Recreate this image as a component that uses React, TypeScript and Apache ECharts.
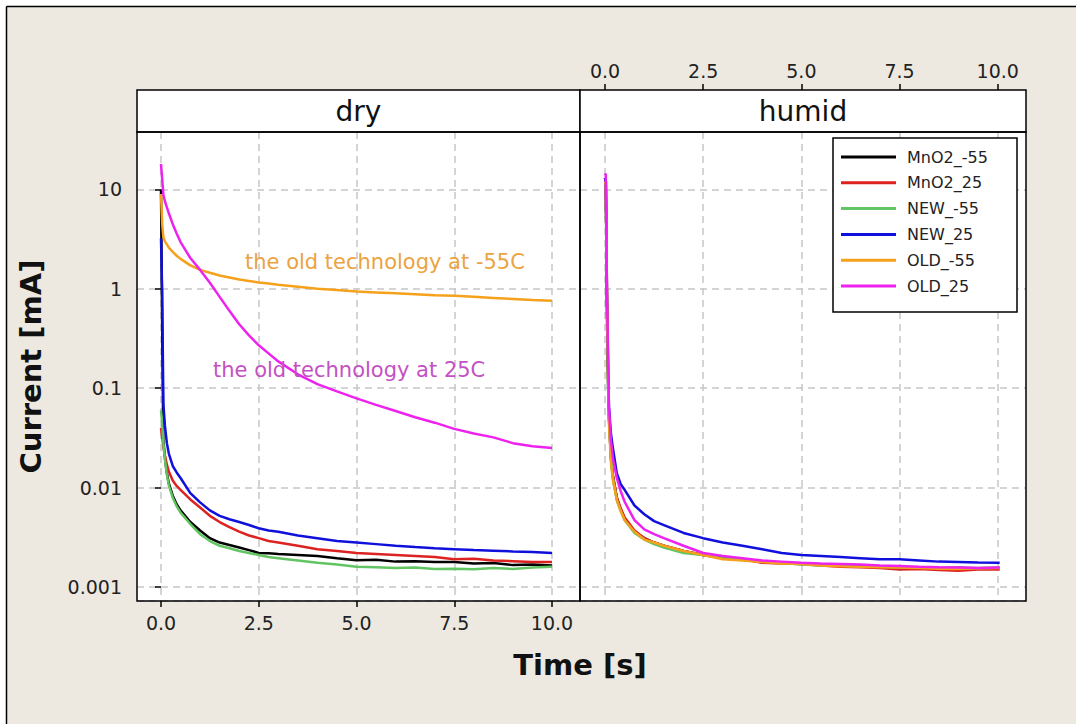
import React, { useEffect, useRef } from "react";
import * as echarts from "echarts";

// ---------- data ----------
const seriesNames = ["MnO2_-55", "MnO2_25", "NEW_-55", "NEW_25", "OLD_-55", "OLD_25"];
const seriesColors = ["#000000", "#DD2222", "#62C462", "#1010DD", "#F5A11C", "#EE22EE"];
const panelTitles = ["dry", "humid"];
const xTicks = [0, 2.5, 5, 7.5, 10];

const tDry = [0, 0.03, 0.06, 0.1, 0.15, 0.2, 0.3, 0.4, 0.5, 0.75, 1, 1.25, 1.5, 1.75, 2, 2.25, 2.5, 2.75, 3, 3.5, 4, 4.5, 5, 5.5, 6, 6.5, 7, 7.5, 8, 8.5, 9, 9.5, 10];
const dryMnO2m55 = [10, 0.4, 0.03, 0.02, 0.014, 0.011, 0.0083, 0.0068, 0.0059, 0.0045, 0.0037, 0.0031, 0.0028, 0.00265, 0.0025, 0.00235, 0.0022, 0.00218, 0.00215, 0.0021, 0.00205, 0.00195, 0.00186, 0.00188, 0.0018, 0.00182, 0.00178, 0.00178, 0.00172, 0.00174, 0.00166, 0.00168, 0.00165];
const dryMnO2p25 = [0.04, 0.032, 0.026, 0.021, 0.017, 0.0145, 0.0118, 0.0104, 0.0095, 0.0076, 0.0063, 0.0052, 0.0045, 0.004, 0.0036, 0.0033, 0.0031, 0.0029, 0.0028, 0.0026, 0.0024, 0.0023, 0.0022, 0.00215, 0.0021, 0.00205, 0.002, 0.0019, 0.00192, 0.00185, 0.00182, 0.00178, 0.00178];
const dryNEWm55 = [0.06, 0.045, 0.028, 0.019, 0.0135, 0.0105, 0.0079, 0.0065, 0.0056, 0.0043, 0.0034, 0.0029, 0.0026, 0.00245, 0.0023, 0.0022, 0.0021, 0.002, 0.00195, 0.00185, 0.00175, 0.00168, 0.0016, 0.00158, 0.00155, 0.00157, 0.00152, 0.00153, 0.00151, 0.00155, 0.00152, 0.00157, 0.0016];
const dryNEWp25 = [3.2, 0.9, 0.07, 0.042, 0.028, 0.022, 0.0165, 0.0142, 0.0125, 0.0088, 0.0071, 0.0059, 0.0052, 0.0048, 0.0045, 0.0042, 0.0039, 0.0037, 0.0036, 0.0033, 0.0031, 0.0029, 0.0028, 0.0027, 0.0026, 0.00252, 0.00245, 0.0024, 0.00235, 0.00232, 0.00228, 0.00225, 0.0022];
const dryOLDm55 = [9, 4.5, 3.3, 3.0, 2.8, 2.6, 2.35, 2.15, 2.0, 1.72, 1.55, 1.45, 1.36, 1.3, 1.24, 1.2, 1.16, 1.13, 1.1, 1.05, 1.0, 0.97, 0.94, 0.92, 0.9, 0.88, 0.86, 0.85, 0.83, 0.81, 0.79, 0.77, 0.76];
const dryOLDp25 = [18, 12.6, 8.9, 7.6, 6.6, 5.75, 4.47, 3.6, 2.95, 2.04, 1.55, 1.15, 0.83, 0.6, 0.44, 0.34, 0.27, 0.224, 0.186, 0.138, 0.11, 0.093, 0.079, 0.068, 0.059, 0.051, 0.045, 0.039, 0.035, 0.032, 0.028, 0.026, 0.025];

const tHum = [0, 0.02, 0.05, 0.08, 0.1, 0.15, 0.2, 0.3, 0.4, 0.5, 0.75, 1, 1.25, 1.5, 2, 2.5, 3, 3.5, 4, 4.5, 5, 5.5, 6, 6.5, 7, 7.5, 8, 8.5, 9, 9.5, 10.05];
const humMnO2m55 = [13, 12, 0.55, 0.1, 0.05, 0.02, 0.013, 0.0078, 0.006, 0.0049, 0.0036, 0.0031, 0.0028, 0.0026, 0.0023, 0.0021, 0.002, 0.0019, 0.00178, 0.00175, 0.0017, 0.00168, 0.00163, 0.00165, 0.0016, 0.00158, 0.00157, 0.00155, 0.00156, 0.00154, 0.00155];
const humMnO2p25 = [13, 12, 0.8, 0.12, 0.055, 0.022, 0.0135, 0.008, 0.0062, 0.005, 0.0037, 0.0031, 0.0028, 0.0026, 0.0023, 0.0021, 0.00195, 0.0019, 0.00175, 0.00172, 0.0017, 0.00165, 0.0016, 0.00158, 0.00155, 0.0015, 0.00152, 0.00148, 0.00146, 0.0015, 0.0015];
const humNEWm55 = [13, 12, 0.7, 0.1, 0.05, 0.02, 0.0125, 0.0075, 0.0058, 0.0047, 0.0035, 0.003, 0.0027, 0.0025, 0.0022, 0.0021, 0.00195, 0.0019, 0.0018, 0.00175, 0.00168, 0.00165, 0.00165, 0.0016, 0.0016, 0.00157, 0.00158, 0.00155, 0.00153, 0.00155, 0.00156];
const humNEWp25 = [13, 12, 0.9, 0.15, 0.065, 0.035, 0.025, 0.014, 0.0108, 0.0095, 0.0066, 0.0054, 0.0046, 0.0042, 0.0035, 0.0031, 0.0028, 0.0026, 0.0024, 0.0022, 0.0021, 0.00205, 0.002, 0.00195, 0.0019, 0.0019, 0.00185, 0.0018, 0.00178, 0.00176, 0.00175];
const humOLDm55 = [12, 11, 0.95, 0.12, 0.045, 0.018, 0.012, 0.0075, 0.0058, 0.0047, 0.0036, 0.003, 0.0028, 0.0026, 0.0023, 0.0021, 0.0019, 0.00185, 0.00178, 0.00172, 0.0017, 0.00165, 0.00162, 0.0016, 0.00158, 0.00157, 0.00155, 0.00153, 0.00152, 0.00154, 0.00155];
const humOLDp25 = [14.5, 14, 0.9, 0.2, 0.063, 0.03, 0.02, 0.0125, 0.0092, 0.0072, 0.0047, 0.0038, 0.0034, 0.0031, 0.0026, 0.0022, 0.00205, 0.00195, 0.00185, 0.0018, 0.00175, 0.00172, 0.0017, 0.00168, 0.00165, 0.00163, 0.0016, 0.00158, 0.00157, 0.00155, 0.00157];

const dryValues = [dryMnO2m55, dryMnO2p25, dryNEWm55, dryNEWp25, dryOLDm55, dryOLDp25];
const humValues = [humMnO2m55, humMnO2p25, humNEWm55, humNEWp25, humOLDm55, humOLDp25];

const annotations = [
  { text: "the old technology at -55C", x: 245, y: 262, color: "#EBA342" },
  { text: "the old technology at 25C", x: 213, y: 370, color: "#C451C4" },
];

// ---------- helpers ----------
const FONT = "DejaVu Sans";
const pairs = (t: number[], v: number[]) => t.map((x, i) => [x, v[i]]);

const gridLine = { show: true, lineStyle: { color: "#C6C6C6", type: [7, 5], width: 1.5 } };

const App: React.FC = () => {
  const ref = useRef<HTMLDivElement>(null);

  useEffect(() => {
    if (!ref.current) return;
    const chart = echarts.init(ref.current, undefined, { renderer: "svg" });

    const Y_MIN = 0.000723;
    const Y_MAX = 37.8;

    const series: any[] = [];
    [dryValues, humValues].forEach((vals, p) => {
      const t = p === 0 ? tDry : tHum;
      vals.forEach((v, i) => {
        series.push({
          name: seriesNames[i],
          type: "line",
          xAxisIndex: p,
          yAxisIndex: p,
          data: pairs(t, v),
          symbol: "none",
          showSymbol: false,
          lineStyle: { color: seriesColors[i], width: 2.5 },
          itemStyle: { color: seriesColors[i] },
          emphasis: { disabled: true },
          z: 2 + i * 0.01,
        });
      });
    });

    const xAxisBase = (p: number) => ({
      type: "value",
      gridIndex: p,
      min: p === 0 ? -0.614 : -0.637,
      max: p === 0 ? 10.716 : 10.72,
      position: p === 0 ? "bottom" : "top",
      offset: p === 0 ? 0 : 42,
      axisLine: { show: false },
      axisTick: {
        show: true,
        customValues: xTicks,
        length: 6,
        lineStyle: { color: "#000", width: 1.5 },
      },
      axisLabel: {
        show: true,
        customValues: xTicks,
        formatter: (v: number) => v.toFixed(1),
        fontFamily: FONT,
        fontSize: 19,
        color: "#222",
        margin: p === 0 ? 12 : 10,
      },
      splitLine: gridLine,
    });

    const graphics: any[] = [
      // page frame
      { type: "rect", shape: { x: 0, y: 0, width: 1076, height: 6 }, style: { fill: "#fff" }, z: 0 },
      { type: "rect", shape: { x: 0, y: 0, width: 6, height: 724 }, style: { fill: "#fff" }, z: 0 },
      { type: "line", shape: { x1: 6.5, y1: 6.5, x2: 1076, y2: 6.5 }, style: { stroke: "#000", lineWidth: 1.5 }, z: 0 },
      { type: "line", shape: { x1: 6.5, y1: 6.5, x2: 6.5, y2: 724 }, style: { stroke: "#000", lineWidth: 1.5 }, z: 0 },
      // header strips
      { type: "rect", shape: { x: 137, y: 90, width: 443, height: 42 }, style: { fill: "#fff", stroke: "#000", lineWidth: 1.5 }, z: 50 },
      { type: "rect", shape: { x: 580, y: 90, width: 446, height: 42 }, style: { fill: "#fff", stroke: "#000", lineWidth: 1.5 }, z: 50 },
      { type: "text", x: 358.5, y: 111, style: { text: panelTitles[0], fill: "#111", font: `28px '${FONT}'`, textAlign: "center", textVerticalAlign: "middle" }, z: 51 },
      { type: "text", x: 803, y: 111, style: { text: panelTitles[1], fill: "#111", font: `28px '${FONT}'`, textAlign: "center", textVerticalAlign: "middle" }, z: 51 },
      // panel borders
      { type: "rect", shape: { x: 137, y: 132, width: 443, height: 469 }, style: { fill: "none", stroke: "#000", lineWidth: 1.5 }, z: 50 },
      { type: "rect", shape: { x: 580, y: 132, width: 446, height: 469 }, style: { fill: "none", stroke: "#000", lineWidth: 1.5 }, z: 50 },
      // legend box
      { type: "rect", shape: { x: 833, y: 138, width: 184, height: 174 }, style: { fill: "#fff", stroke: "#000", lineWidth: 1.5 }, z: 3 },
      // x title
      { type: "text", x: 580, y: 665, style: { text: "Time [s]", fill: "#111", font: `bold 29px '${FONT}'`, textAlign: "center", textVerticalAlign: "middle" }, z: 51 },
      ...annotations.map((a) => ({
        type: "text",
        x: a.x,
        y: a.y,
        style: { text: a.text, fill: a.color, font: `21px '${FONT}'`, textAlign: "left", textVerticalAlign: "middle" },
        z: 51,
      })),
    ];

    chart.setOption({
      animation: false,
      backgroundColor: "#EDE9E0",
      textStyle: { fontFamily: FONT },
      grid: [
        { left: 137, top: 132, width: 443, height: 469, show: true, backgroundColor: "#fff", borderWidth: 0 },
        { left: 580, top: 132, width: 446, height: 469, show: true, backgroundColor: "#fff", borderWidth: 0 },
      ],
      xAxis: [xAxisBase(0), xAxisBase(1)],
      yAxis: [
        {
          type: "log",
          gridIndex: 0,
          min: Y_MIN,
          max: Y_MAX,
          axisLine: { show: false },
          axisTick: { show: true, length: 6, lineStyle: { color: "#000", width: 1.5 } },
          axisLabel: {
            fontFamily: FONT,
            fontSize: 19,
            color: "#222",
            margin: 15,
            showMinLabel: false,
            showMaxLabel: false,
            formatter: (v: number) => String(+Number(v).toPrecision(3)),
          },
          splitLine: gridLine,
          name: "Current [mA]",
          nameLocation: "middle",
          nameGap: 92,
          nameTextStyle: { fontFamily: FONT, fontSize: 29, fontWeight: "bold", color: "#111" },
        },
        {
          type: "log",
          gridIndex: 1,
          min: Y_MIN,
          max: Y_MAX,
          axisLine: { show: false },
          axisTick: { show: false },
          axisLabel: { show: false },
          splitLine: gridLine,
        },
      ],
      legend: {
        data: seriesNames,
        orient: "vertical",
        left: 841,
        top: 149,
        padding: 0,
        icon: "rect",
        itemWidth: 55,
        itemHeight: 3,
        itemGap: 9.8,
        textStyle: { fontFamily: FONT, fontSize: 16, color: "#222", lineHeight: 16, padding: [0, 0, 0, 6] },
        selectedMode: false,
        z: 4,
      },
      graphic: graphics,
      series,
    });

    return () => chart.dispose();
  }, []);

  return (
    <div
      ref={ref}
      style={{ position: "fixed", left: 0, top: 0, width: 1076, height: 724 }}
    />
  );
};

export default App;
